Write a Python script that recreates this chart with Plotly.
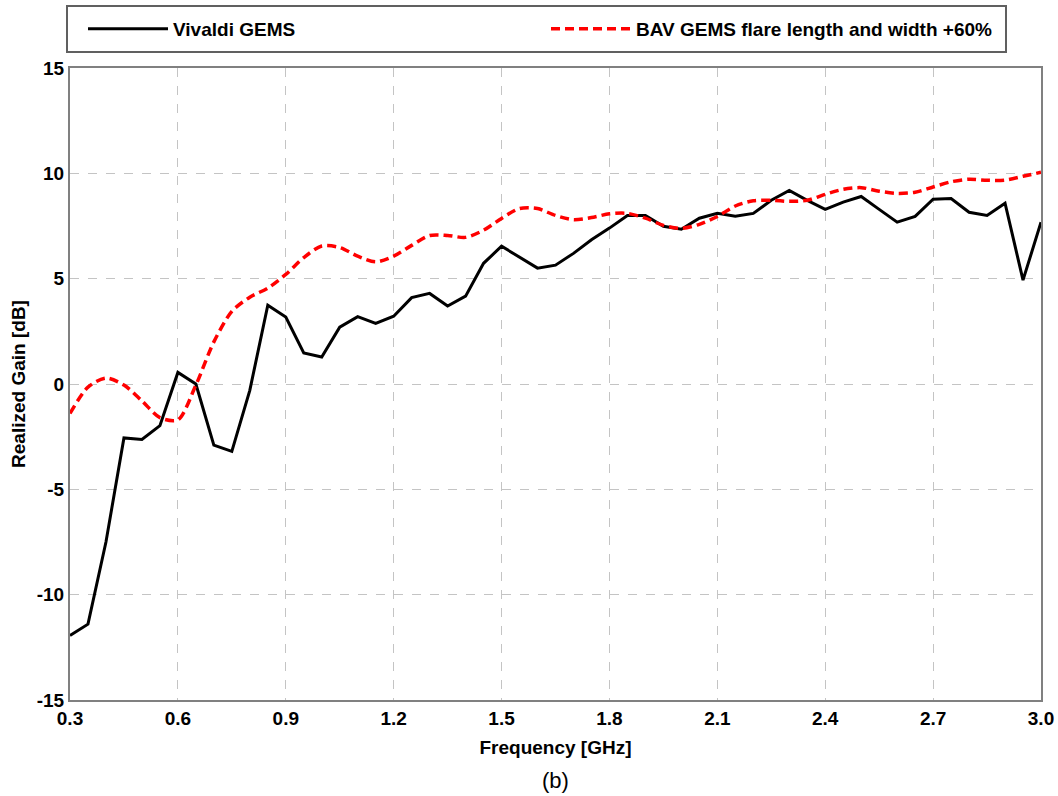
import plotly.graph_objects as go

freq_ghz = [0.30, 0.35, 0.40, 0.45, 0.50, 0.55, 0.60, 0.65, 0.70, 0.75,
            0.80, 0.85, 0.90, 0.95, 1.00, 1.05, 1.10, 1.15, 1.20, 1.25,
            1.30, 1.35, 1.40, 1.45, 1.50, 1.55, 1.60, 1.65, 1.70, 1.75,
            1.80, 1.85, 1.90, 1.95, 2.00, 2.05, 2.10, 2.15, 2.20, 2.25,
            2.30, 2.35, 2.40, 2.45, 2.50, 2.55, 2.60, 2.65, 2.70, 2.75,
            2.80, 2.85, 2.90, 2.95, 3.00]

vivaldi_gain = [-11.94, -11.4, -7.5, -2.56, -2.63, -1.98, 0.55, 0.0, -2.9, -3.2,
                -0.3, 3.74, 3.18, 1.47, 1.28, 2.7, 3.2, 2.88, 3.22, 4.1,
                4.3, 3.7, 4.17, 5.73, 6.54, 6.0, 5.5, 5.64, 6.2, 6.85,
                7.4, 8.0, 8.0, 7.49, 7.35, 7.87, 8.1, 7.96, 8.1, 8.72,
                9.19, 8.72, 8.29, 8.63, 8.9, 8.29, 7.68, 7.96, 8.77, 8.8,
                8.15, 8.0, 8.58, 4.93, 7.68]

bav_gain = [-1.4, -0.15, 0.28, -0.05, -0.8, -1.6, -1.7, -0.05, 2.0, 3.45,
            4.12, 4.55, 5.2, 6.0, 6.55, 6.48, 6.07, 5.8, 6.07, 6.58,
            7.05, 7.05, 6.96, 7.3, 7.86, 8.33, 8.33, 8.0, 7.8, 7.9,
            8.08, 8.1, 7.87, 7.53, 7.39, 7.58, 7.95, 8.45, 8.7, 8.72,
            8.67, 8.72, 9.0, 9.24, 9.32, 9.15, 9.05, 9.1, 9.35, 9.6,
            9.72, 9.67, 9.68, 9.86, 10.05]

x_ticks = [0.3, 0.6, 0.9, 1.2, 1.5, 1.8, 2.1, 2.4, 2.7, 3.0]
y_ticks = [-15, -10, -5, 0, 5, 10, 15]

FONT = "Liberation Sans, Arial, sans-serif"

fig = go.Figure()
fig.add_trace(go.Scatter(
    x=freq_ghz, y=vivaldi_gain, mode="lines", name="Vivaldi GEMS",
    line=dict(color="black", width=3)))
fig.add_trace(go.Scatter(
    x=freq_ghz, y=bav_gain, mode="lines", name="BAV GEMS flare length and width +60%",
    line=dict(color="#ff0000", width=3.5, dash="9px,5px", shape="spline", smoothing=0.8)))

axis_common = dict(
    showline=True, mirror=True, linecolor="#808080", linewidth=2,
    showgrid=True, gridcolor="#c4c4c4", griddash="dash", gridwidth=1,
    zeroline=False, ticks="",
    tickfont=dict(family=FONT, size=19, color="black", weight="bold"),
)

fig.update_xaxes(
    range=[0.3, 3.0], tickvals=x_ticks, ticktext=[f"{v:.1f}" for v in x_ticks],
    title=dict(text="<b>Frequency [GHz]</b>", font=dict(family=FONT, size=19, color="black"),
               standoff=13),
    **axis_common)
fig.update_yaxes(
    range=[-15, 15], tickvals=y_ticks, ticktext=[str(v) for v in y_ticks],
    title=dict(text="<b>Realized Gain [dB]</b>", font=dict(family=FONT, size=19, color="black"),
               standoff=6),
    **axis_common)

# legend frame (paper coordinates derived from the plot box 70..1041 x 68..700 px)
fig.add_shape(type="rect", xref="paper", yref="paper",
              x0=-3 / 971, x1=936 / 971, y0=648 / 632, y1=694 / 632,
              line=dict(color="#606060", width=2), fillcolor="white", layer="below")

fig.update_layout(
    width=1058, height=796,
    margin=dict(l=70, r=17, t=68, b=96, autoexpand=False),
    paper_bgcolor="white", plot_bgcolor="white",
    font=dict(family=FONT, color="black"),
    legend=dict(
        orientation="h", x=13 / 971, xanchor="left", y=690 / 632, yanchor="top",
        borderwidth=0, bgcolor="rgba(0,0,0,0)",
        font=dict(family=FONT, size=19, color="black", weight="bold"),
        entrywidth=368, entrywidthmode="pixels", itemwidth=80,
        tracegroupgap=0,
    ),
    annotations=[dict(
        text="(b)", x=0.5, xref="paper", y=0, yref="paper",
        yanchor="top", yshift=-66, showarrow=False,
        font=dict(family=FONT, size=22, color="black"))],
)

fig.write_html("out.html", config={"displayModeBar": False},
               post_script="document.body.style.margin='0';")
